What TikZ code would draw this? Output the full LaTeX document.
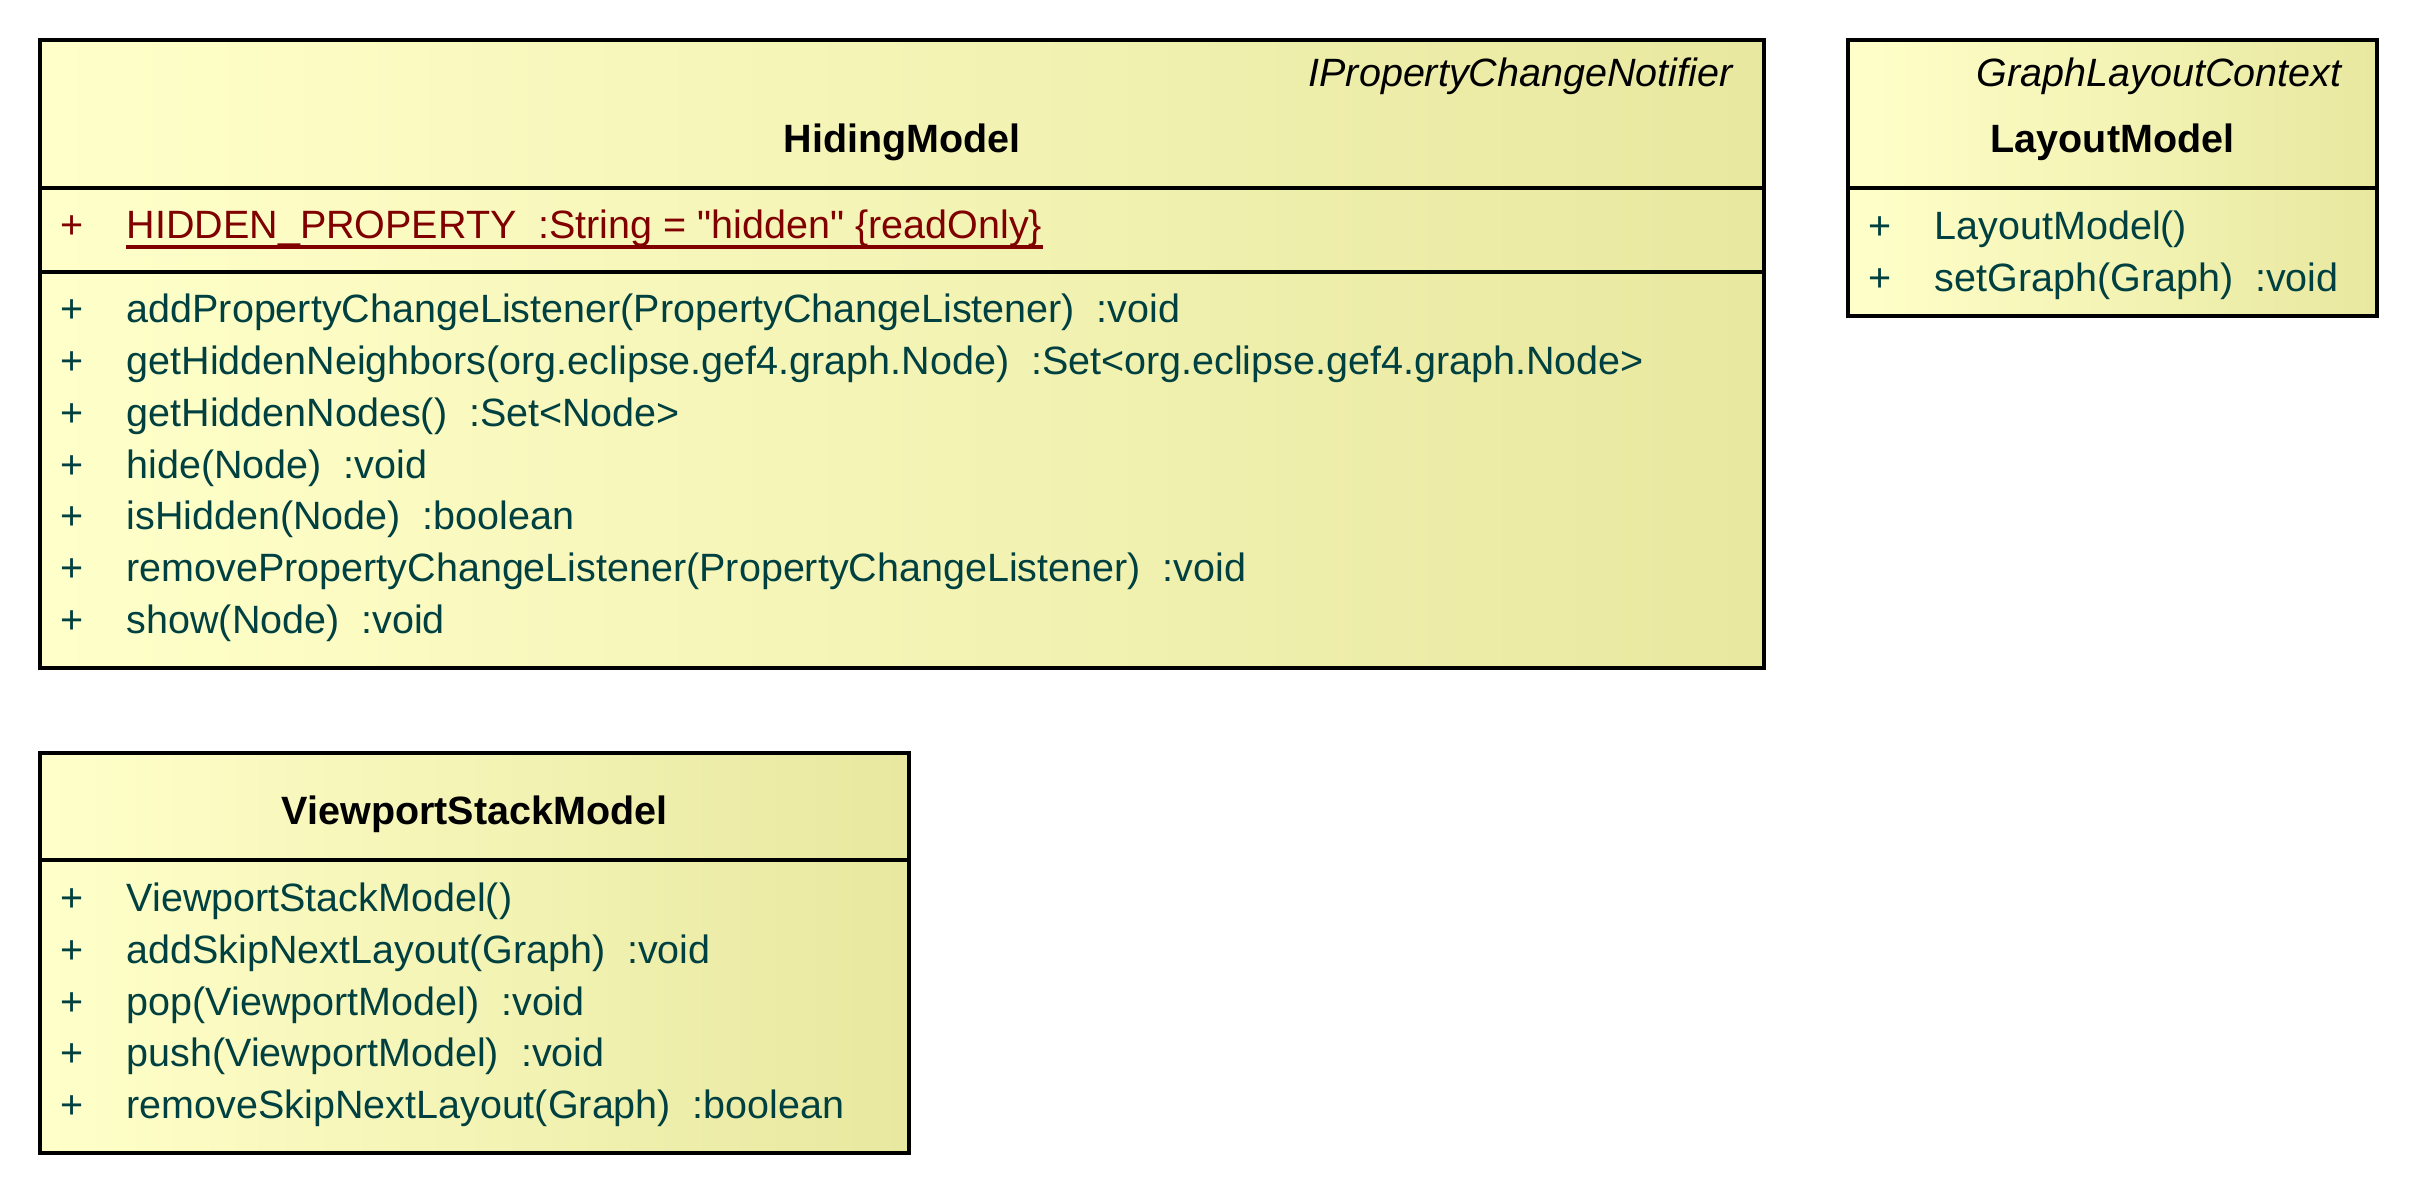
\documentclass[tikz,border=0pt]{standalone}
\usepackage{fontspec}
\setmainfont{Liberation Sans}
\newcommand\umlfs{\fontsize{11.85}{14}\selectfont}
\definecolor{umlleft}{RGB}{255,255,202}
\definecolor{umlmid}{RGB}{249,249,190}
\definecolor{umlright}{RGB}{232,232,160}
\definecolor{attrcol}{RGB}{128,0,0}
\definecolor{opcol}{RGB}{0,64,64}
\tikzset{
  classbox/.style={draw=black, line width=1.2pt, left color=umlleft, middle color=umlmid, right color=umlright},
  compsep/.style={draw=black, line width=1.05pt},
  stereotype/.style={anchor=base east, inner sep=0pt, font=\umlfs\itshape},
  classname/.style={anchor=base, inner sep=0pt, font=\umlfs\bfseries},
  vis/.style={anchor=base west, inner sep=0pt},
  member/.style={anchor=base west, inner sep=0pt},
}
\begin{document}
\begin{tikzpicture}[x=0.3pt, y=-0.3pt, font=\umlfs]
            \useasboundingbox (0,0) rectangle (2420,1196);
            % HidingModel
            \path[classbox] (40,40) rectangle (1764,668);
            \draw[compsep] (40,188)--(1764,188) (40,272)--(1764,272);
            \node[stereotype] (hmstereo) at (1733,87) {IPropertyChangeNotifier};
            \node[classname] (hmname) at (902,153) {HidingModel};
            \node[vis, text=attrcol] (hmattrvis) at (60,239) {+};
            \node[member, text=attrcol] (hmattr) at (126,239) {HIDDEN\_PROPERTY\ \ :String = \textquotedbl hidden\textquotedbl\ \{readOnly\}};
            \draw[attrcol, line width=1.1pt] ([yshift=-2.5pt]hmattr.base west)--([yshift=-2.5pt]hmattr.base east);
            \foreach \op [count=\i from 0] in {addPropertyChangeListener(PropertyChangeListener)\ \ :void,
                getHiddenNeighbors(org.eclipse.gef4.graph.Node)\ \ :Set<org.eclipse.gef4.graph.Node>,
                getHiddenNodes()\ \ :Set<Node>, hide(Node)\ \ :void, isHidden(Node)\ \ :boolean,
                removePropertyChangeListener(PropertyChangeListener)\ \ :void, show(Node)\ \ :void}{
              \node[vis, text=opcol] (hmvis\i) at (60,323+51.7*\i) {+};
              \node[member, text=opcol] (hmop\i) at (126,323+51.7*\i) {\op};
            }
            % LayoutModel
            \path[classbox] (1848,40) rectangle (2377,316);
            \draw[compsep] (1848,188)--(2377,188);
            \node[stereotype] (lmstereo) at (2342,87) {GraphLayoutContext};
            \node[classname] (lmname) at (2112.5,153) {LayoutModel};
            \foreach \op [count=\i from 0] in {LayoutModel(), setGraph(Graph)\ \ :void}{
              \node[vis, text=opcol] (lmvis\i) at (1868,240+51.7*\i) {+};
              \node[member, text=opcol] (lmop\i) at (1934,240+51.7*\i) {\op};
            }
            % ViewportStackModel
            \path[classbox] (40,753) rectangle (909,1153);
            \draw[compsep] (40,860)--(909,860);
            \node[classname] (vsname) at (474.5,825) {ViewportStackModel};
            \foreach \op [count=\i from 0] in {ViewportStackModel(), addSkipNextLayout(Graph)\ \ :void,
                pop(ViewportModel)\ \ :void, push(ViewportModel)\ \ :void, removeSkipNextLayout(Graph)\ \ :boolean}{
              \node[vis, text=opcol] (vsvis\i) at (60,912+51.6*\i) {+};
              \node[member, text=opcol] (vsop\i) at (126,912+51.6*\i) {\op};
            }
        \end{tikzpicture}
\end{document}
